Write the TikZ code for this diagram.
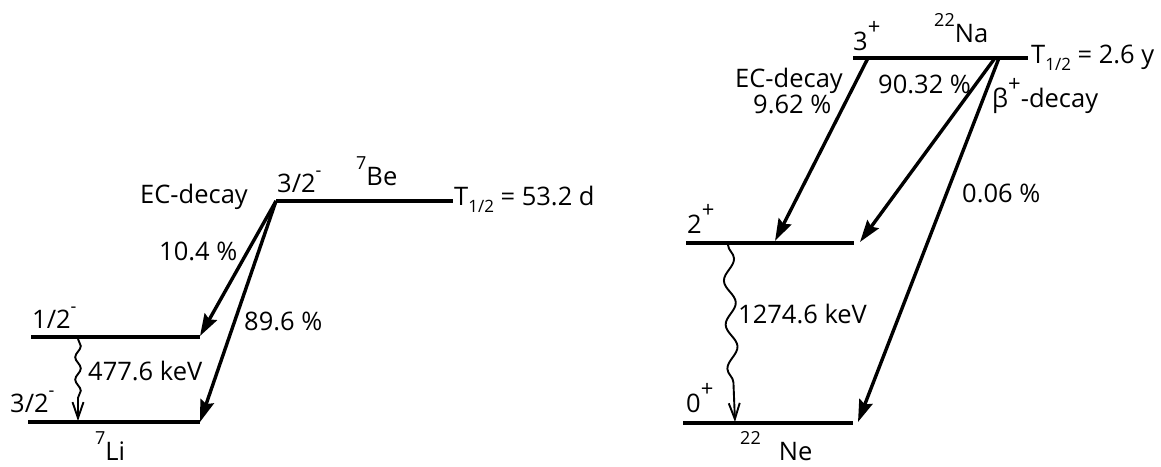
\documentclass[tikz,border=0pt]{standalone}
\usepackage{fontspec}
\setmainfont{Open Sans}
\usetikzlibrary{arrows.meta,decorations.pathmorphing}
\newcommand{\upidx}[2][18]{\raisebox{0.6em}{\fontsize{#1}{20}\selectfont #2}}
\newcommand{\lowidx}[1]{\raisebox{-0.3em}{\fontsize{17}{18}\selectfont #1}}

\begin{document}
\begin{tikzpicture}[x=1pt,y=-1pt,font=\fontsize{25.5}{30}\selectfont,
  level/.style={line width=3.6pt},
  decay/.style={line width=3.4pt,-{Stealth[length=22pt,width=14pt,inset=3pt]}},
  gammaray/.style={line width=1.9pt,decorate,
    decoration={snake,amplitude=#1,segment length=2*#1*4,post length=22pt},
    -{Straight Barb[length=16pt,width=11pt]}},
  lbl/.style={anchor=base west,inner sep=0pt}]
  \useasboundingbox (0,0) rectangle (1161,466);

  % 7Be -> 7Li
  \coordinate (be1) at (276,201);  \coordinate (be2) at (453,201);
  \coordinate (lia1) at (31,337);  \coordinate (lia2) at (200,337);
  \coordinate (lib1) at (28,422);  \coordinate (lib2) at (200,422);
  \draw[level] (be1) -- (be2);
  \draw[level] (lia1) -- (lia2);
  \draw[level] (lib1) -- (lib2);
  \draw[decay] (be1) -- (200,336);
  \draw[decay] (be1) -- (lib2);
  \coordinate (ga1) at (78,339);  \coordinate (ga2) at (78,421);
  \draw[gammaray=2.8pt] (ga1) -- (ga2);
  \node[lbl] (beJ) at (277,192) {3/2\upidx{-}};
  \node[lbl] (beN) at (356,185) {\upidx{7}Be};
  \node[lbl] (beT) at (454,205) {T\lowidx{1/2} = 53.2 d};
  \node[lbl] (beEC) at (140,203) {EC-decay};
  \node[lbl] (brA) at (159,260) {10.4 \%};
  \node[lbl] (brB) at (244,330) {89.6 \%};
  \node[lbl] (liaJ) at (32,328) {1/2\upidx{-}};
  \node[lbl] (libJ) at (10,412) {3/2\upidx{-}};
  \node[lbl] (liE) at (88,380) {477.6 keV};
  \node[lbl] (liN) at (95,460) {\upidx{7}Li};

  % 22Na -> 22Ne
  \coordinate (na1) at (853,58);  \coordinate (na2) at (1028,58);
  \coordinate (nea1) at (686,243);  \coordinate (nea2) at (854,243);
  \coordinate (neb1) at (683,423);  \coordinate (neb2) at (853,423);
  \draw[level] (na1) -- (na2);
  \draw[level] (nea1) -- (nea2);
  \draw[level] (neb1) -- (neb2);
  \draw[decay] (868,58) -- (775,241);
  \draw[decay] (995,58) -- (860,242);
  \draw[decay] (999,58) -- (858,422);
  \coordinate (gb1) at (728,245);  \coordinate (gb2) at (735,422);
  \draw[gammaray=5.5pt] (gb1) -- (gb2);
  \node[lbl] (naJ) at (853,50) {3\upidx[22]{+}};
  \node[lbl] (naN) at (934,42) {\upidx{22}Na};
  \node[lbl] (naT) at (1031,63) {T\lowidx{1/2} = 2.6 y};
  \node[lbl] (naEC) at (735,87) {EC-decay};
  \node[lbl] (brC) at (753,113) {9.62 \%};
  \node[lbl] (brD) at (878,93) {90.32 \%};
  \node[lbl] (naBeta) at (992,107) {β\upidx[22]{+}-decay};
  \node[lbl] (brE) at (962,202) {0.06 \%};
  \node[lbl] (neaJ) at (687,233) {2\upidx[22]{+}};
  \node[lbl] (nebJ) at (686,412) {0\upidx[22]{+}};
  \node[lbl] (neE) at (738,323) {1274.6 keV};
  \node[lbl] (neN) at (740,460) {\upidx{22}\hspace{18pt}Ne};
\end{tikzpicture}
\end{document}
